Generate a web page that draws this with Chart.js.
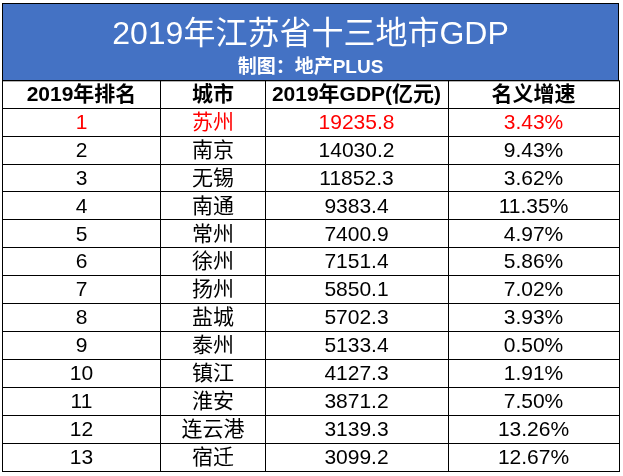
<!DOCTYPE html>
<html>
<head>
<meta charset="utf-8">
<script src="https://cdn.jsdelivr.net/npm/chart.js@4"></script>
<style>
  html, body { margin: 0; padding: 0; background: #fff; }
  #wrap { width: 623px; height: 476px; }
</style>
</head>
<body>
<div id="wrap"><canvas id="gdp-table"></canvas></div>
<script>
const headers = ['2019年排名', '城市', '2019年GDP(亿元)', '名义增速']
const ranks = [1, 2, 3, 4, 5, 6, 7, 8, 9, 10, 11, 12, 13]
const cities = ['苏州', '南京', '无锡', '南通', '常州', '徐州', '扬州', '盐城', '泰州', '镇江', '淮安', '连云港', '宿迁']
const gdp = [19235.8, 14030.2, 11852.3, 9383.4, 7400.9, 7151.4, 5850.1, 5702.3, 5133.4, 4127.3, 3871.2, 3139.3, 3099.2]
const growth = [3.43, 9.43, 3.62, 11.35, 4.97, 5.86, 7.02, 3.93, 0.50, 1.91, 7.50, 13.26, 12.67]

// column widths in pixels, table starts at 0
const colWidths = [159, 104, 183, 171]
const colEdges = [0]
colWidths.forEach(w => colEdges.push(colEdges[colEdges.length - 1] + w))
const colCenters = colWidths.map((w, i) => colEdges[i] + w / 2)

const FONT = '"Liberation Sans", "Noto Sans CJK SC", sans-serif'

const rows = ranks.map((r, i) => [
    String(r),
    cities[i],
    gdp[i].toFixed(1),
    growth[i].toFixed(2) + '%'
])

const tablePlugin = {
    id: 'tablePlugin',
    beforeDraw(chart) {
        const ctx = chart.ctx
        const area = chart.chartArea
        ctx.save()
        ctx.fillStyle = '#4472C4'
        ctx.fillRect(area.left, 3, area.right - area.left, area.top - 3)
        ctx.strokeStyle = '#000'
        ctx.lineWidth = 1
        ctx.strokeRect(area.left + 0.5, 3.5, area.right - area.left - 1, area.top - 3)
        ctx.restore()
    },
    afterDatasetsDraw(chart) {
        const ctx = chart.ctx
        const xs = chart.scales.x
        const ys = chart.scales.y
        ctx.save()
        ctx.textAlign = 'center'
        ctx.textBaseline = 'middle'
        ctx.font = 'bold 21px ' + FONT
        ctx.fillStyle = '#000'
        headers.forEach((h, c) => {
            ctx.fillText(h, xs.getPixelForValue(colCenters[c]), ys.getPixelForValue(0.5) + 1)
        })
        ctx.font = '21px ' + FONT
        rows.forEach((row, r) => {
            ctx.fillStyle = r === 0 ? '#FF0000' : '#000'
            row.forEach((txt, c) => {
                ctx.fillText(txt, xs.getPixelForValue(colCenters[c]), ys.getPixelForValue(r + 1.5) + 1)
            })
        })
        ctx.restore()
    }
}

new Chart(document.getElementById('gdp-table'), {
    type: 'scatter',
    data: {
        datasets: [{
            data: cities.map((c, i) => ({ x: colCenters[1], y: i + 1.5 })),
            pointRadius: 0
        }]
    },
    options: {
        responsive: true,
        maintainAspectRatio: false,
        animation: false,
        events: [],
        layout: {
            padding: { left: 2, right: 4, top: 3, bottom: 5 }
        },
        plugins: {
            legend: { display: false },
            tooltip: { enabled: false },
            title: {
                display: true,
                text: '2019年江苏省十三地市GDP',
                color: '#fff',
                font: { family: FONT, size: 32, weight: 'normal', lineHeight: 1.2 },
                padding: { top: 13, bottom: 0 }
            },
            subtitle: {
                display: true,
                text: '制图：地产PLUS',
                color: '#fff',
                font: { family: FONT, size: 19, weight: 'bold', lineHeight: 1.1 },
                padding: { top: 3, bottom: 2 }
            }
        },
        scales: {
            x: {
                type: 'linear',
                min: colEdges[0],
                max: colEdges[colEdges.length - 1],
                afterBuildTicks: (scale) => {
                    scale.ticks = colEdges.map(v => ({ value: v }))
                },
                ticks: { display: false },
                grid: { color: '#000', lineWidth: 1, drawTicks: false },
                border: { display: true, color: '#000' }
            },
            y: {
                type: 'linear',
                reverse: true,
                min: 0,
                max: ranks.length + 1,
                ticks: { display: false, stepSize: 1 },
                grid: { color: '#000', lineWidth: 1, drawTicks: false },
                border: { display: true, color: '#000' }
            }
        }
    },
    plugins: [tablePlugin]
})
</script>
</body>
</html>
